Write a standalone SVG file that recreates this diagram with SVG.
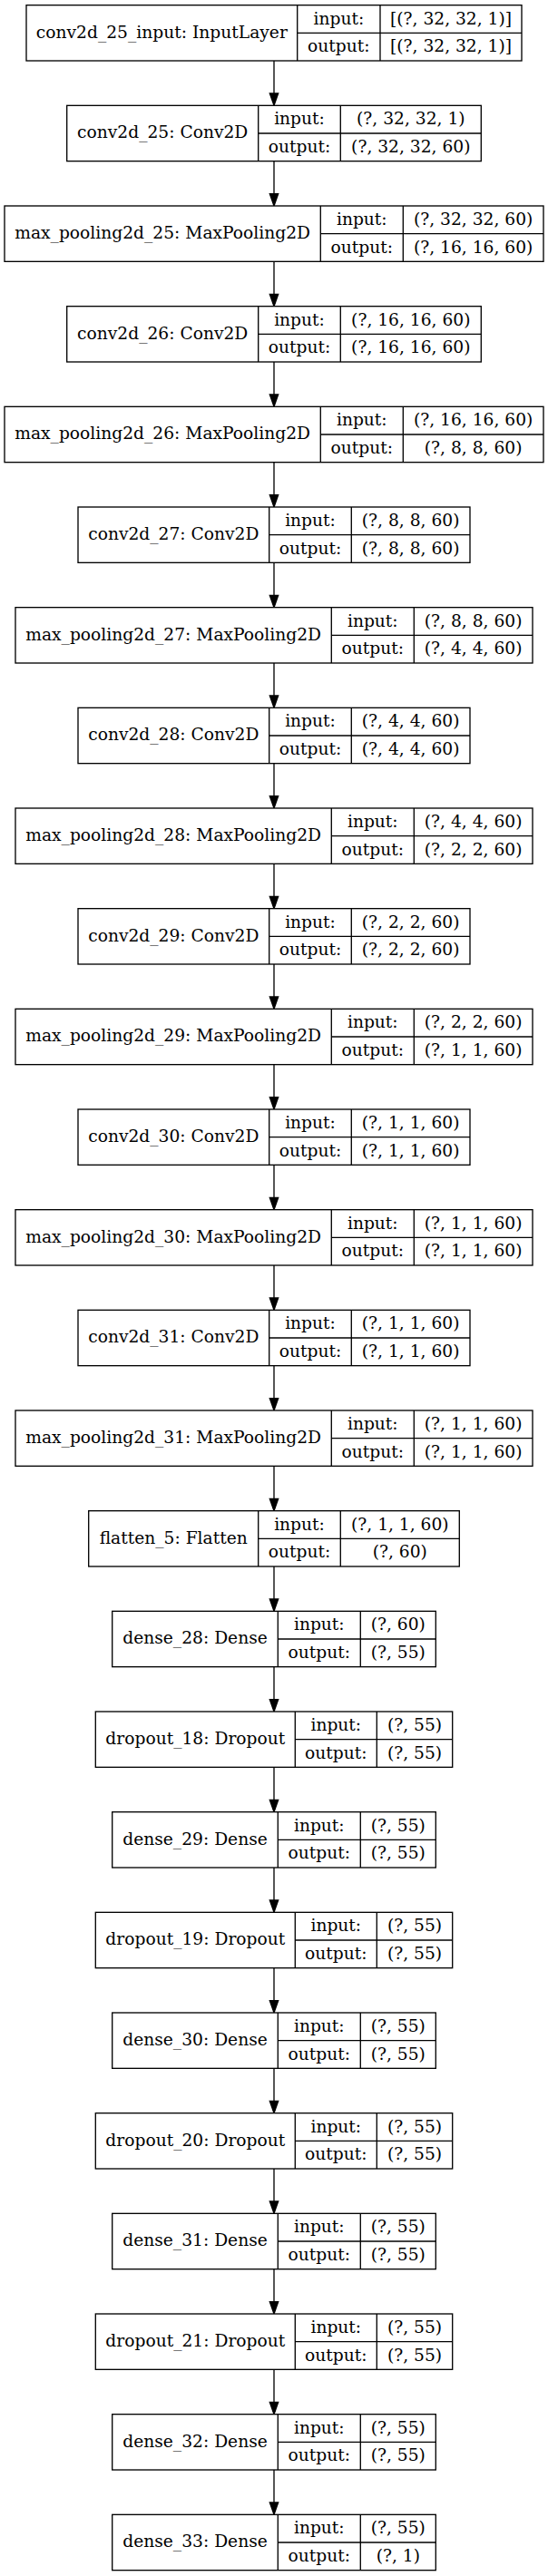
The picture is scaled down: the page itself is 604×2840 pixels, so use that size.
<svg xmlns="http://www.w3.org/2000/svg" width="604" height="2840" viewBox="0 0 604 2840">
<style>
.box{fill:#fff;stroke:#000;stroke-width:1.33}
.ln{stroke:#000;stroke-width:1.33;fill:none}
.ah{fill:#000;stroke:#000;stroke-width:1.33}
text{font-family:"DejaVu Serif",serif;font-size:18.67px;text-anchor:middle;fill:#000}
</style>
<rect x="0" y="0" width="604" height="2840" fill="#fff"/>
<g id="connectors">
<line class="ln" x1="302" y1="67" x2="302" y2="103"/><polygon class="ah" points="297.33,103 306.67,103 302,116.33"/>
<line class="ln" x1="302" y1="177.67" x2="302" y2="213.67"/><polygon class="ah" points="297.33,213.67 306.67,213.67 302,227"/>
<line class="ln" x1="302" y1="288.33" x2="302" y2="324.33"/><polygon class="ah" points="297.33,324.33 306.67,324.33 302,337.67"/>
<line class="ln" x1="302" y1="399" x2="302" y2="435"/><polygon class="ah" points="297.33,435 306.67,435 302,448.33"/>
<line class="ln" x1="302" y1="509.67" x2="302" y2="545.67"/><polygon class="ah" points="297.33,545.67 306.67,545.67 302,559"/>
<line class="ln" x1="302" y1="620.33" x2="302" y2="656.33"/><polygon class="ah" points="297.33,656.33 306.67,656.33 302,669.67"/>
<line class="ln" x1="302" y1="731" x2="302" y2="767"/><polygon class="ah" points="297.33,767 306.67,767 302,780.33"/>
<line class="ln" x1="302" y1="841.67" x2="302" y2="877.67"/><polygon class="ah" points="297.33,877.67 306.67,877.67 302,891"/>
<line class="ln" x1="302" y1="952.33" x2="302" y2="988.33"/><polygon class="ah" points="297.33,988.33 306.67,988.33 302,1001.67"/>
<line class="ln" x1="302" y1="1063" x2="302" y2="1099"/><polygon class="ah" points="297.33,1099 306.67,1099 302,1112.33"/>
<line class="ln" x1="302" y1="1173.67" x2="302" y2="1209.67"/><polygon class="ah" points="297.33,1209.67 306.67,1209.67 302,1223"/>
<line class="ln" x1="302" y1="1284.33" x2="302" y2="1320.33"/><polygon class="ah" points="297.33,1320.33 306.67,1320.33 302,1333.67"/>
<line class="ln" x1="302" y1="1395" x2="302" y2="1431"/><polygon class="ah" points="297.33,1431 306.67,1431 302,1444.33"/>
<line class="ln" x1="302" y1="1505.67" x2="302" y2="1541.67"/><polygon class="ah" points="297.33,1541.67 306.67,1541.67 302,1555"/>
<line class="ln" x1="302" y1="1616.33" x2="302" y2="1652.33"/><polygon class="ah" points="297.33,1652.33 306.67,1652.33 302,1665.67"/>
<line class="ln" x1="302" y1="1727" x2="302" y2="1763"/><polygon class="ah" points="297.33,1763 306.67,1763 302,1776.33"/>
<line class="ln" x1="302" y1="1837.67" x2="302" y2="1873.67"/><polygon class="ah" points="297.33,1873.67 306.67,1873.67 302,1887"/>
<line class="ln" x1="302" y1="1948.33" x2="302" y2="1984.33"/><polygon class="ah" points="297.33,1984.33 306.67,1984.33 302,1997.67"/>
<line class="ln" x1="302" y1="2059" x2="302" y2="2095"/><polygon class="ah" points="297.33,2095 306.67,2095 302,2108.33"/>
<line class="ln" x1="302" y1="2169.67" x2="302" y2="2205.67"/><polygon class="ah" points="297.33,2205.67 306.67,2205.67 302,2219"/>
<line class="ln" x1="302" y1="2280.33" x2="302" y2="2316.33"/><polygon class="ah" points="297.33,2316.33 306.67,2316.33 302,2329.67"/>
<line class="ln" x1="302" y1="2391" x2="302" y2="2427"/><polygon class="ah" points="297.33,2427 306.67,2427 302,2440.33"/>
<line class="ln" x1="302" y1="2501.67" x2="302" y2="2537.67"/><polygon class="ah" points="297.33,2537.67 306.67,2537.67 302,2551"/>
<line class="ln" x1="302" y1="2612.33" x2="302" y2="2648.33"/><polygon class="ah" points="297.33,2648.33 306.67,2648.33 302,2661.67"/>
<line class="ln" x1="302" y1="2723" x2="302" y2="2759"/><polygon class="ah" points="297.33,2759 306.67,2759 302,2772.33"/>
</g>
<g id="conv2d_25_input" transform="translate(0,5.67)">
<rect class="box" x="29" y="0" width="546" height="61.33"/>
<line class="ln" x1="327.7" y1="0" x2="327.7" y2="61.33"/><line class="ln" x1="419" y1="0" x2="419" y2="61.33"/><line class="ln" x1="327.7" y1="30.67" x2="575" y2="30.67"/>
<text x="178.35" y="36">conv2d_25_input: InputLayer</text><text x="373.35" y="21">input:</text><text x="373.35" y="51.5">output:</text>
<text x="497" y="21">[(?, 32, 32, 1)]</text><text x="497" y="51.5">[(?, 32, 32, 1)]</text>
</g>
<g id="conv2d_25" transform="translate(0,116.33)">
<rect class="box" x="73.7" y="0" width="456.6" height="61.33"/>
<line class="ln" x1="284.7" y1="0" x2="284.7" y2="61.33"/><line class="ln" x1="375.3" y1="0" x2="375.3" y2="61.33"/><line class="ln" x1="284.7" y1="30.67" x2="530.3" y2="30.67"/>
<text x="179.2" y="36">conv2d_25: Conv2D</text><text x="330" y="21">input:</text><text x="330" y="51.5">output:</text>
<text x="452.8" y="21">(?, 32, 32, 1)</text><text x="452.8" y="51.5">(?, 32, 32, 60)</text>
</g>
<g id="max_pooling2d_25" transform="translate(0,227)">
<rect class="box" x="5" y="0" width="594" height="61.33"/>
<line class="ln" x1="353.3" y1="0" x2="353.3" y2="61.33"/><line class="ln" x1="444.3" y1="0" x2="444.3" y2="61.33"/><line class="ln" x1="353.3" y1="30.67" x2="599" y2="30.67"/>
<text x="179.15" y="36">max_pooling2d_25: MaxPooling2D</text><text x="398.8" y="21">input:</text><text x="398.8" y="51.5">output:</text>
<text x="521.65" y="21">(?, 32, 32, 60)</text><text x="521.65" y="51.5">(?, 16, 16, 60)</text>
</g>
<g id="conv2d_26" transform="translate(0,337.67)">
<rect class="box" x="73.7" y="0" width="456.6" height="61.33"/>
<line class="ln" x1="284.7" y1="0" x2="284.7" y2="61.33"/><line class="ln" x1="375.3" y1="0" x2="375.3" y2="61.33"/><line class="ln" x1="284.7" y1="30.67" x2="530.3" y2="30.67"/>
<text x="179.2" y="36">conv2d_26: Conv2D</text><text x="330" y="21">input:</text><text x="330" y="51.5">output:</text>
<text x="452.8" y="21">(?, 16, 16, 60)</text><text x="452.8" y="51.5">(?, 16, 16, 60)</text>
</g>
<g id="max_pooling2d_26" transform="translate(0,448.33)">
<rect class="box" x="5" y="0" width="594" height="61.33"/>
<line class="ln" x1="353.3" y1="0" x2="353.3" y2="61.33"/><line class="ln" x1="444.3" y1="0" x2="444.3" y2="61.33"/><line class="ln" x1="353.3" y1="30.67" x2="599" y2="30.67"/>
<text x="179.15" y="36">max_pooling2d_26: MaxPooling2D</text><text x="398.8" y="21">input:</text><text x="398.8" y="51.5">output:</text>
<text x="521.65" y="21">(?, 16, 16, 60)</text><text x="521.65" y="51.5">(?, 8, 8, 60)</text>
</g>
<g id="conv2d_27" transform="translate(0,559)">
<rect class="box" x="86" y="0" width="432" height="61.33"/>
<line class="ln" x1="296.7" y1="0" x2="296.7" y2="61.33"/><line class="ln" x1="387.3" y1="0" x2="387.3" y2="61.33"/><line class="ln" x1="296.7" y1="30.67" x2="518" y2="30.67"/>
<text x="191.35" y="36">conv2d_27: Conv2D</text><text x="342" y="21">input:</text><text x="342" y="51.5">output:</text>
<text x="452.65" y="21">(?, 8, 8, 60)</text><text x="452.65" y="51.5">(?, 8, 8, 60)</text>
</g>
<g id="max_pooling2d_27" transform="translate(0,669.67)">
<rect class="box" x="17" y="0" width="570" height="61.33"/>
<line class="ln" x1="365.3" y1="0" x2="365.3" y2="61.33"/><line class="ln" x1="456.3" y1="0" x2="456.3" y2="61.33"/><line class="ln" x1="365.3" y1="30.67" x2="587" y2="30.67"/>
<text x="191.15" y="36">max_pooling2d_27: MaxPooling2D</text><text x="410.8" y="21">input:</text><text x="410.8" y="51.5">output:</text>
<text x="521.65" y="21">(?, 8, 8, 60)</text><text x="521.65" y="51.5">(?, 4, 4, 60)</text>
</g>
<g id="conv2d_28" transform="translate(0,780.33)">
<rect class="box" x="86" y="0" width="432" height="61.33"/>
<line class="ln" x1="296.7" y1="0" x2="296.7" y2="61.33"/><line class="ln" x1="387.3" y1="0" x2="387.3" y2="61.33"/><line class="ln" x1="296.7" y1="30.67" x2="518" y2="30.67"/>
<text x="191.35" y="36">conv2d_28: Conv2D</text><text x="342" y="21">input:</text><text x="342" y="51.5">output:</text>
<text x="452.65" y="21">(?, 4, 4, 60)</text><text x="452.65" y="51.5">(?, 4, 4, 60)</text>
</g>
<g id="max_pooling2d_28" transform="translate(0,891)">
<rect class="box" x="17" y="0" width="570" height="61.33"/>
<line class="ln" x1="365.3" y1="0" x2="365.3" y2="61.33"/><line class="ln" x1="456.3" y1="0" x2="456.3" y2="61.33"/><line class="ln" x1="365.3" y1="30.67" x2="587" y2="30.67"/>
<text x="191.15" y="36">max_pooling2d_28: MaxPooling2D</text><text x="410.8" y="21">input:</text><text x="410.8" y="51.5">output:</text>
<text x="521.65" y="21">(?, 4, 4, 60)</text><text x="521.65" y="51.5">(?, 2, 2, 60)</text>
</g>
<g id="conv2d_29" transform="translate(0,1001.67)">
<rect class="box" x="86" y="0" width="432" height="61.33"/>
<line class="ln" x1="296.7" y1="0" x2="296.7" y2="61.33"/><line class="ln" x1="387.3" y1="0" x2="387.3" y2="61.33"/><line class="ln" x1="296.7" y1="30.67" x2="518" y2="30.67"/>
<text x="191.35" y="36">conv2d_29: Conv2D</text><text x="342" y="21">input:</text><text x="342" y="51.5">output:</text>
<text x="452.65" y="21">(?, 2, 2, 60)</text><text x="452.65" y="51.5">(?, 2, 2, 60)</text>
</g>
<g id="max_pooling2d_29" transform="translate(0,1112.33)">
<rect class="box" x="17" y="0" width="570" height="61.33"/>
<line class="ln" x1="365.3" y1="0" x2="365.3" y2="61.33"/><line class="ln" x1="456.3" y1="0" x2="456.3" y2="61.33"/><line class="ln" x1="365.3" y1="30.67" x2="587" y2="30.67"/>
<text x="191.15" y="36">max_pooling2d_29: MaxPooling2D</text><text x="410.8" y="21">input:</text><text x="410.8" y="51.5">output:</text>
<text x="521.65" y="21">(?, 2, 2, 60)</text><text x="521.65" y="51.5">(?, 1, 1, 60)</text>
</g>
<g id="conv2d_30" transform="translate(0,1223)">
<rect class="box" x="86" y="0" width="432" height="61.33"/>
<line class="ln" x1="296.7" y1="0" x2="296.7" y2="61.33"/><line class="ln" x1="387.3" y1="0" x2="387.3" y2="61.33"/><line class="ln" x1="296.7" y1="30.67" x2="518" y2="30.67"/>
<text x="191.35" y="36">conv2d_30: Conv2D</text><text x="342" y="21">input:</text><text x="342" y="51.5">output:</text>
<text x="452.65" y="21">(?, 1, 1, 60)</text><text x="452.65" y="51.5">(?, 1, 1, 60)</text>
</g>
<g id="max_pooling2d_30" transform="translate(0,1333.67)">
<rect class="box" x="17" y="0" width="570" height="61.33"/>
<line class="ln" x1="365.3" y1="0" x2="365.3" y2="61.33"/><line class="ln" x1="456.3" y1="0" x2="456.3" y2="61.33"/><line class="ln" x1="365.3" y1="30.67" x2="587" y2="30.67"/>
<text x="191.15" y="36">max_pooling2d_30: MaxPooling2D</text><text x="410.8" y="21">input:</text><text x="410.8" y="51.5">output:</text>
<text x="521.65" y="21">(?, 1, 1, 60)</text><text x="521.65" y="51.5">(?, 1, 1, 60)</text>
</g>
<g id="conv2d_31" transform="translate(0,1444.33)">
<rect class="box" x="86" y="0" width="432" height="61.33"/>
<line class="ln" x1="296.7" y1="0" x2="296.7" y2="61.33"/><line class="ln" x1="387.3" y1="0" x2="387.3" y2="61.33"/><line class="ln" x1="296.7" y1="30.67" x2="518" y2="30.67"/>
<text x="191.35" y="36">conv2d_31: Conv2D</text><text x="342" y="21">input:</text><text x="342" y="51.5">output:</text>
<text x="452.65" y="21">(?, 1, 1, 60)</text><text x="452.65" y="51.5">(?, 1, 1, 60)</text>
</g>
<g id="max_pooling2d_31" transform="translate(0,1555)">
<rect class="box" x="17" y="0" width="570" height="61.33"/>
<line class="ln" x1="365.3" y1="0" x2="365.3" y2="61.33"/><line class="ln" x1="456.3" y1="0" x2="456.3" y2="61.33"/><line class="ln" x1="365.3" y1="30.67" x2="587" y2="30.67"/>
<text x="191.15" y="36">max_pooling2d_31: MaxPooling2D</text><text x="410.8" y="21">input:</text><text x="410.8" y="51.5">output:</text>
<text x="521.65" y="21">(?, 1, 1, 60)</text><text x="521.65" y="51.5">(?, 1, 1, 60)</text>
</g>
<g id="flatten_5" transform="translate(0,1665.67)">
<rect class="box" x="97.7" y="0" width="408.6" height="61.33"/>
<line class="ln" x1="284.7" y1="0" x2="284.7" y2="61.33"/><line class="ln" x1="375.3" y1="0" x2="375.3" y2="61.33"/><line class="ln" x1="284.7" y1="30.67" x2="506.3" y2="30.67"/>
<text x="191.2" y="36">flatten_5: Flatten</text><text x="330" y="21">input:</text><text x="330" y="51.5">output:</text>
<text x="440.8" y="21">(?, 1, 1, 60)</text><text x="440.8" y="51.5">(?, 60)</text>
</g>
<g id="dense_28" transform="translate(0,1776.33)">
<rect class="box" x="123.7" y="0" width="356.6" height="61.33"/>
<line class="ln" x1="306.3" y1="0" x2="306.3" y2="61.33"/><line class="ln" x1="397.3" y1="0" x2="397.3" y2="61.33"/><line class="ln" x1="306.3" y1="30.67" x2="480.3" y2="30.67"/>
<text x="215" y="36">dense_28: Dense</text><text x="351.8" y="21">input:</text><text x="351.8" y="51.5">output:</text>
<text x="438.8" y="21">(?, 60)</text><text x="438.8" y="51.5">(?, 55)</text>
</g>
<g id="dropout_18" transform="translate(0,1887)">
<rect class="box" x="105.3" y="0" width="393.4" height="61.33"/>
<line class="ln" x1="325.3" y1="0" x2="325.3" y2="61.33"/><line class="ln" x1="415.3" y1="0" x2="415.3" y2="61.33"/><line class="ln" x1="325.3" y1="30.67" x2="498.7" y2="30.67"/>
<text x="215.3" y="36">dropout_18: Dropout</text><text x="370.3" y="21">input:</text><text x="370.3" y="51.5">output:</text>
<text x="457" y="21">(?, 55)</text><text x="457" y="51.5">(?, 55)</text>
</g>
<g id="dense_29" transform="translate(0,1997.67)">
<rect class="box" x="123.7" y="0" width="356.6" height="61.33"/>
<line class="ln" x1="306.3" y1="0" x2="306.3" y2="61.33"/><line class="ln" x1="397.3" y1="0" x2="397.3" y2="61.33"/><line class="ln" x1="306.3" y1="30.67" x2="480.3" y2="30.67"/>
<text x="215" y="36">dense_29: Dense</text><text x="351.8" y="21">input:</text><text x="351.8" y="51.5">output:</text>
<text x="438.8" y="21">(?, 55)</text><text x="438.8" y="51.5">(?, 55)</text>
</g>
<g id="dropout_19" transform="translate(0,2108.33)">
<rect class="box" x="105.3" y="0" width="393.4" height="61.33"/>
<line class="ln" x1="325.3" y1="0" x2="325.3" y2="61.33"/><line class="ln" x1="415.3" y1="0" x2="415.3" y2="61.33"/><line class="ln" x1="325.3" y1="30.67" x2="498.7" y2="30.67"/>
<text x="215.3" y="36">dropout_19: Dropout</text><text x="370.3" y="21">input:</text><text x="370.3" y="51.5">output:</text>
<text x="457" y="21">(?, 55)</text><text x="457" y="51.5">(?, 55)</text>
</g>
<g id="dense_30" transform="translate(0,2219)">
<rect class="box" x="123.7" y="0" width="356.6" height="61.33"/>
<line class="ln" x1="306.3" y1="0" x2="306.3" y2="61.33"/><line class="ln" x1="397.3" y1="0" x2="397.3" y2="61.33"/><line class="ln" x1="306.3" y1="30.67" x2="480.3" y2="30.67"/>
<text x="215" y="36">dense_30: Dense</text><text x="351.8" y="21">input:</text><text x="351.8" y="51.5">output:</text>
<text x="438.8" y="21">(?, 55)</text><text x="438.8" y="51.5">(?, 55)</text>
</g>
<g id="dropout_20" transform="translate(0,2329.67)">
<rect class="box" x="105.3" y="0" width="393.4" height="61.33"/>
<line class="ln" x1="325.3" y1="0" x2="325.3" y2="61.33"/><line class="ln" x1="415.3" y1="0" x2="415.3" y2="61.33"/><line class="ln" x1="325.3" y1="30.67" x2="498.7" y2="30.67"/>
<text x="215.3" y="36">dropout_20: Dropout</text><text x="370.3" y="21">input:</text><text x="370.3" y="51.5">output:</text>
<text x="457" y="21">(?, 55)</text><text x="457" y="51.5">(?, 55)</text>
</g>
<g id="dense_31" transform="translate(0,2440.33)">
<rect class="box" x="123.7" y="0" width="356.6" height="61.33"/>
<line class="ln" x1="306.3" y1="0" x2="306.3" y2="61.33"/><line class="ln" x1="397.3" y1="0" x2="397.3" y2="61.33"/><line class="ln" x1="306.3" y1="30.67" x2="480.3" y2="30.67"/>
<text x="215" y="36">dense_31: Dense</text><text x="351.8" y="21">input:</text><text x="351.8" y="51.5">output:</text>
<text x="438.8" y="21">(?, 55)</text><text x="438.8" y="51.5">(?, 55)</text>
</g>
<g id="dropout_21" transform="translate(0,2551)">
<rect class="box" x="105.3" y="0" width="393.4" height="61.33"/>
<line class="ln" x1="325.3" y1="0" x2="325.3" y2="61.33"/><line class="ln" x1="415.3" y1="0" x2="415.3" y2="61.33"/><line class="ln" x1="325.3" y1="30.67" x2="498.7" y2="30.67"/>
<text x="215.3" y="36">dropout_21: Dropout</text><text x="370.3" y="21">input:</text><text x="370.3" y="51.5">output:</text>
<text x="457" y="21">(?, 55)</text><text x="457" y="51.5">(?, 55)</text>
</g>
<g id="dense_32" transform="translate(0,2661.67)">
<rect class="box" x="123.7" y="0" width="356.6" height="61.33"/>
<line class="ln" x1="306.3" y1="0" x2="306.3" y2="61.33"/><line class="ln" x1="397.3" y1="0" x2="397.3" y2="61.33"/><line class="ln" x1="306.3" y1="30.67" x2="480.3" y2="30.67"/>
<text x="215" y="36">dense_32: Dense</text><text x="351.8" y="21">input:</text><text x="351.8" y="51.5">output:</text>
<text x="438.8" y="21">(?, 55)</text><text x="438.8" y="51.5">(?, 55)</text>
</g>
<g id="dense_33" transform="translate(0,2772.33)">
<rect class="box" x="123.7" y="0" width="356.6" height="61.33"/>
<line class="ln" x1="306.3" y1="0" x2="306.3" y2="61.33"/><line class="ln" x1="397.3" y1="0" x2="397.3" y2="61.33"/><line class="ln" x1="306.3" y1="30.67" x2="480.3" y2="30.67"/>
<text x="215" y="36">dense_33: Dense</text><text x="351.8" y="21">input:</text><text x="351.8" y="51.5">output:</text>
<text x="438.8" y="21">(?, 55)</text><text x="438.8" y="51.5">(?, 1)</text>
</g>
</svg>
